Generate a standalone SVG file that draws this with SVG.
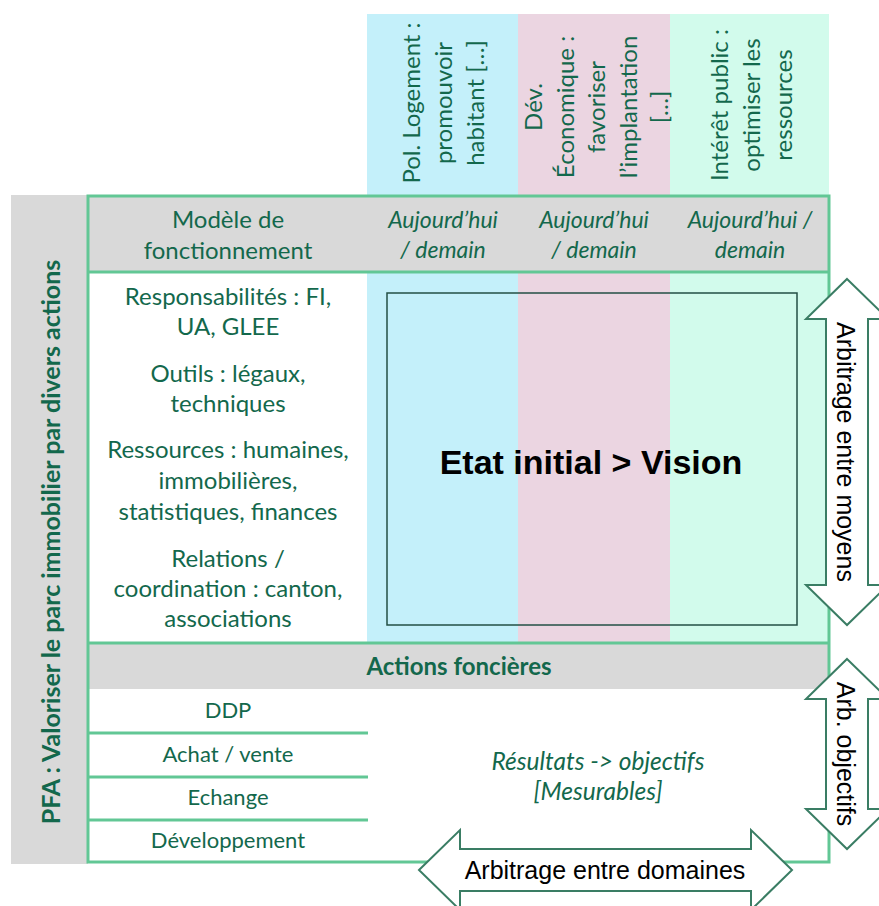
<svg xmlns="http://www.w3.org/2000/svg" width="879" height="906" viewBox="0 0 879 906">
<style>
.g{font-family:Lato,"Open Sans","Liberation Sans",sans-serif;fill:#13684C}
.t{font-size:24px}
.h{font-size:24px}
.it{font-size:23px;font-style:italic}
.c{text-anchor:middle}
.ln{stroke:#62C795;stroke-width:3;fill:none}
.ar{fill:#fff;stroke:#3A7D64;stroke-width:2;stroke-linejoin:miter}
.at{font-family:"Liberation Sans",Arial,sans-serif;font-size:25px;fill:#000;text-anchor:middle}
</style>
<rect width="879" height="906" fill="#fff"/>
<g id="columns">
<rect x="367" y="14" width="151" height="629" fill="#C4F0FA"/>
<rect x="518" y="14" width="152" height="629" fill="#EBD5E1"/>
<rect x="670" y="14" width="159" height="629" fill="#D2FBEC"/>
</g>
<g id="left-band">
<rect x="11" y="195" width="77" height="669" fill="#D9D9D9"/>
<text class="g c" font-weight="bold" font-size="25" transform="translate(60,542) rotate(-90)">PFA : Valoriser le parc immobilier par divers actions</text>
</g>
<g id="header-row">
<rect x="88" y="196" width="741" height="76" fill="#D9D9D9"/>
<text class="g t c"><tspan x="228" y="228">Modèle de</tspan><tspan x="228" y="259">fonctionnement</tspan></text>
<text class="g it c"><tspan x="443" y="228">Aujourd’hui</tspan><tspan x="443" y="258">/ demain</tspan></text>
<text class="g it c"><tspan x="594" y="228">Aujourd’hui</tspan><tspan x="594" y="258">/ demain</tspan></text>
<text class="g it c"><tspan x="750" y="228">Aujourd’hui /</tspan><tspan x="750" y="258">demain</tspan></text>
</g>
<g id="col-headers">
<text class="g h c" transform="translate(420,103) rotate(-90)"><tspan x="0" y="0">Pol. Logement :</tspan><tspan x="0" y="32">promouvoir</tspan><tspan x="0" y="64">habitant […]</tspan></text>
<text class="g h c" transform="translate(542,107) rotate(-90)"><tspan x="0" y="0">Dév.</tspan><tspan x="0" y="31.5">Économique :</tspan><tspan x="0" y="63">favoriser</tspan><tspan x="0" y="95">l’implantation</tspan><tspan x="0" y="126">[…]</tspan></text>
<text class="g h c" transform="translate(728,105) rotate(-90)"><tspan x="0" y="0">Intérêt public :</tspan><tspan x="0" y="32">optimiser les</tspan><tspan x="0" y="64">ressources</tspan></text>
</g>
<g id="model-items">
<text class="g t c"><tspan x="228" y="305">Responsabilités : FI,</tspan><tspan x="228" y="335">UA, GLEE</tspan></text>
<text class="g t c"><tspan x="228" y="382">Outils : légaux,</tspan><tspan x="228" y="412">techniques</tspan></text>
<text class="g t c"><tspan x="228" y="458">Ressources : humaines,</tspan><tspan x="228" y="489">immobilières,</tspan><tspan x="228" y="520">statistiques, finances</tspan></text>
<text class="g t c"><tspan x="228" y="567">Relations /</tspan><tspan x="228" y="597">coordination : canton,</tspan><tspan x="228" y="627">associations</tspan></text>
</g>
<g id="vision">
<rect x="387" y="293" width="410" height="332" fill="none" stroke="#234F44" stroke-width="1.5"/>
<text x="591" y="474" font-family="'Liberation Sans',Arial,sans-serif" font-weight="bold" font-size="34" text-anchor="middle" fill="#000">Etat initial &gt; Vision</text>
</g>
<g id="actions">
<rect x="88" y="643" width="741" height="46" fill="#D9D9D9"/>
<text class="g c" x="459" y="675" font-weight="bold" font-size="24">Actions foncières</text>
<text class="g c" font-size="22"><tspan x="228" y="718">DDP</tspan><tspan x="228" y="762">Achat / vente</tspan><tspan x="228" y="805">Echange</tspan><tspan x="228" y="848">Développement</tspan></text>
<text class="g c" font-size="24.5" font-style="italic"><tspan x="598" y="770">Résultats -&gt; objectifs</tspan><tspan x="598" y="800">[Mesurables]</tspan></text>
</g>
<g id="lines">
<rect class="ln" x="88" y="196" width="741" height="666"/>
<line class="ln" x1="88" y1="272" x2="829" y2="272"/>
<line class="ln" x1="88" y1="643" x2="829" y2="643"/>
<line class="ln" x1="88" y1="733" x2="368" y2="733"/>
<line class="ln" x1="88" y1="777" x2="368" y2="777"/>
<line class="ln" x1="88" y1="820" x2="368" y2="820"/>
</g>
<g id="arrows">
<polygon class="ar" points="847,279 888,319 868,319 868,585 888,585 847,625 806,585 826,585 826,319 806,319"/>
<text class="at" transform="translate(837,452) rotate(90)">Arbitrage entre moyens</text>
<polygon class="ar" points="847,659 888,699 868,699 868,809 888,809 847,849 806,809 826,809 826,699 806,699"/>
<text class="at" transform="translate(837,754) rotate(90)">Arb. objectifs</text>
<polygon class="ar" points="419,870 460,830 460,849 751,849 751,830 792,870 751,910 751,891 460,891 460,910"/>
<text class="at" x="605" y="879">Arbitrage entre domaines</text>
</g>
</svg>
